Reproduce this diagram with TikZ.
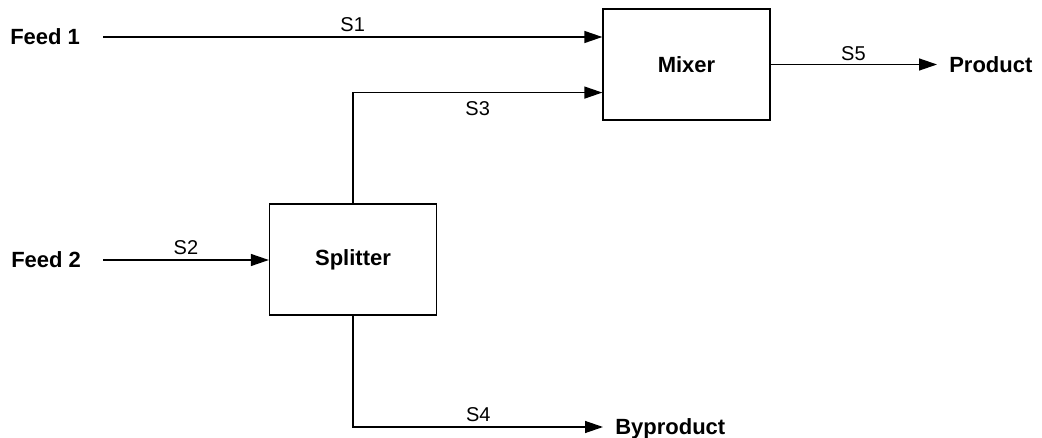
\documentclass[tikz,border=0pt]{standalone}
\usepackage{fontspec}
\setmainfont{Liberation Sans}
\usetikzlibrary{arrows.meta,calc}
\begin{document}
\begin{tikzpicture}[x=0.75pt,y=-0.75pt,
  unitbox/.style={draw, line width=1pt, minimum width=125.25pt, minimum height=83.25pt, inner sep=0pt, font=\fontsize{16.5}{19}\selectfont\bfseries},
  ext/.style={inner sep=0pt, text depth=0pt, font=\fontsize{16.5}{19}\selectfont\bfseries},
  flow/.style={line width=1pt, -{Triangle[length=13.5pt,width=9pt]}},
  lbl/.style={font=\fontsize{15}{18}\selectfont, inner sep=2pt}]
\useasboundingbox (0,0) rectangle (1042,438);
\node[unitbox] (mix) at (686.5,64.5) {Mixer};
\node[unitbox] (spl) at (353,259.5) {Splitter};
\node[ext, anchor=west] (f1) at (10,37) {Feed 1};
\node[ext, anchor=west] (f2) at (11,260) {Feed 2};
\node[ext, anchor=west] (prod) at (949,64.5) {Product};
\node[ext, anchor=west] (byp) at (615,427) {Byproduct};
\coordinate (f1s) at (103,37);
\coordinate (f2s) at (103,260);
\draw[flow] (f1s) -- node[lbl, above=1.5pt] {S1} (f1s -| mix.west);
\draw[flow] (f2s) -- node[lbl, above=1.5pt] {S2} (f2s -| spl.west);
\draw[flow] (spl.north) |- node[lbl, below=4pt, pos=0.75] {S3} ($(mix.north west)!0.75!(mix.south west)$);
\draw[flow, shorten >=9pt] (spl.south) |- node[lbl, above=1.5pt, pos=0.739] {S4} (byp.west);
\draw[flow, shorten >=9pt] (mix.east) -- node[lbl, above=0pt, pos=0.464] {S5} (prod.west);
\end{tikzpicture}
\end{document}
